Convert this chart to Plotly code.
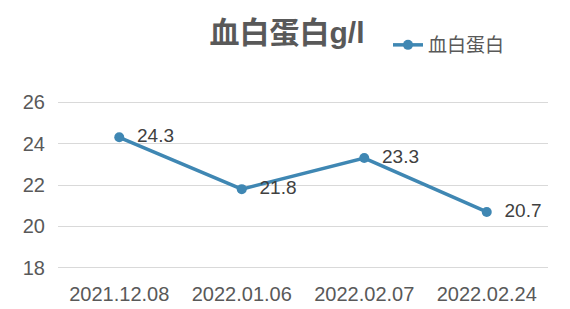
import plotly.graph_objects as go

categories = ["2021.12.08", "2022.01.06", "2022.02.07", "2022.02.24"]
values = [24.3, 21.8, 23.3, 20.7]
labels = ["24.3", "21.8", "23.3", "20.7"]
y_ticks = [18, 20, 22, 24, 26]

fig = go.Figure()
fig.add_trace(go.Scatter(
    x=list(range(len(categories))), y=values, mode="lines+markers+text",
    name="血白蛋白", text=["  " + t for t in labels], textposition="middle right",
    textfont=dict(size=19, color="#404040", family="Liberation Sans, Arial"),
    line=dict(color="#3F87B3", width=3.5),
    marker=dict(size=10, color="#3F87B3"),
    cliponaxis=False,
))
fig.update_layout(
    width=570, height=309,
    margin=dict(l=58, r=22, t=100, b=39),
    paper_bgcolor="white", plot_bgcolor="white",
    font=dict(family="Liberation Sans, Arial, Noto Sans CJK SC", color="#595959"),
    title=dict(text="<b>血白蛋白g/l</b>", x=287/570, xanchor="center", xref="container",
               y=1 - 32/309, yref="container", yanchor="middle",
               font=dict(size=30, color="#595959")),
    showlegend=True,
    legend=dict(x=388/570, y=1 - 45/309, xref="container", yref="container",
                xanchor="left", yanchor="middle", orientation="h",
                font=dict(size=19, color="#595959"), bgcolor="rgba(0,0,0,0)",
                itemwidth=30),
    xaxis=dict(range=[-0.5, 3.5], tickvals=list(range(len(categories))), ticktext=categories,
               showgrid=False, zeroline=False, showline=False, automargin=False,
               tickfont=dict(size=20, color="#595959"), ticks="", ticklen=0,
               ticklabelstandoff=10),
    yaxis=dict(range=[17.9, 26.1], tickvals=y_ticks, showgrid=True, gridcolor="#D9D9D9",
               gridwidth=1, zeroline=False, showline=False, automargin=False,
               tickfont=dict(size=20, color="#595959"), ticks="", ticklabelstandoff=12),
)
fig.write_html("out.html")
